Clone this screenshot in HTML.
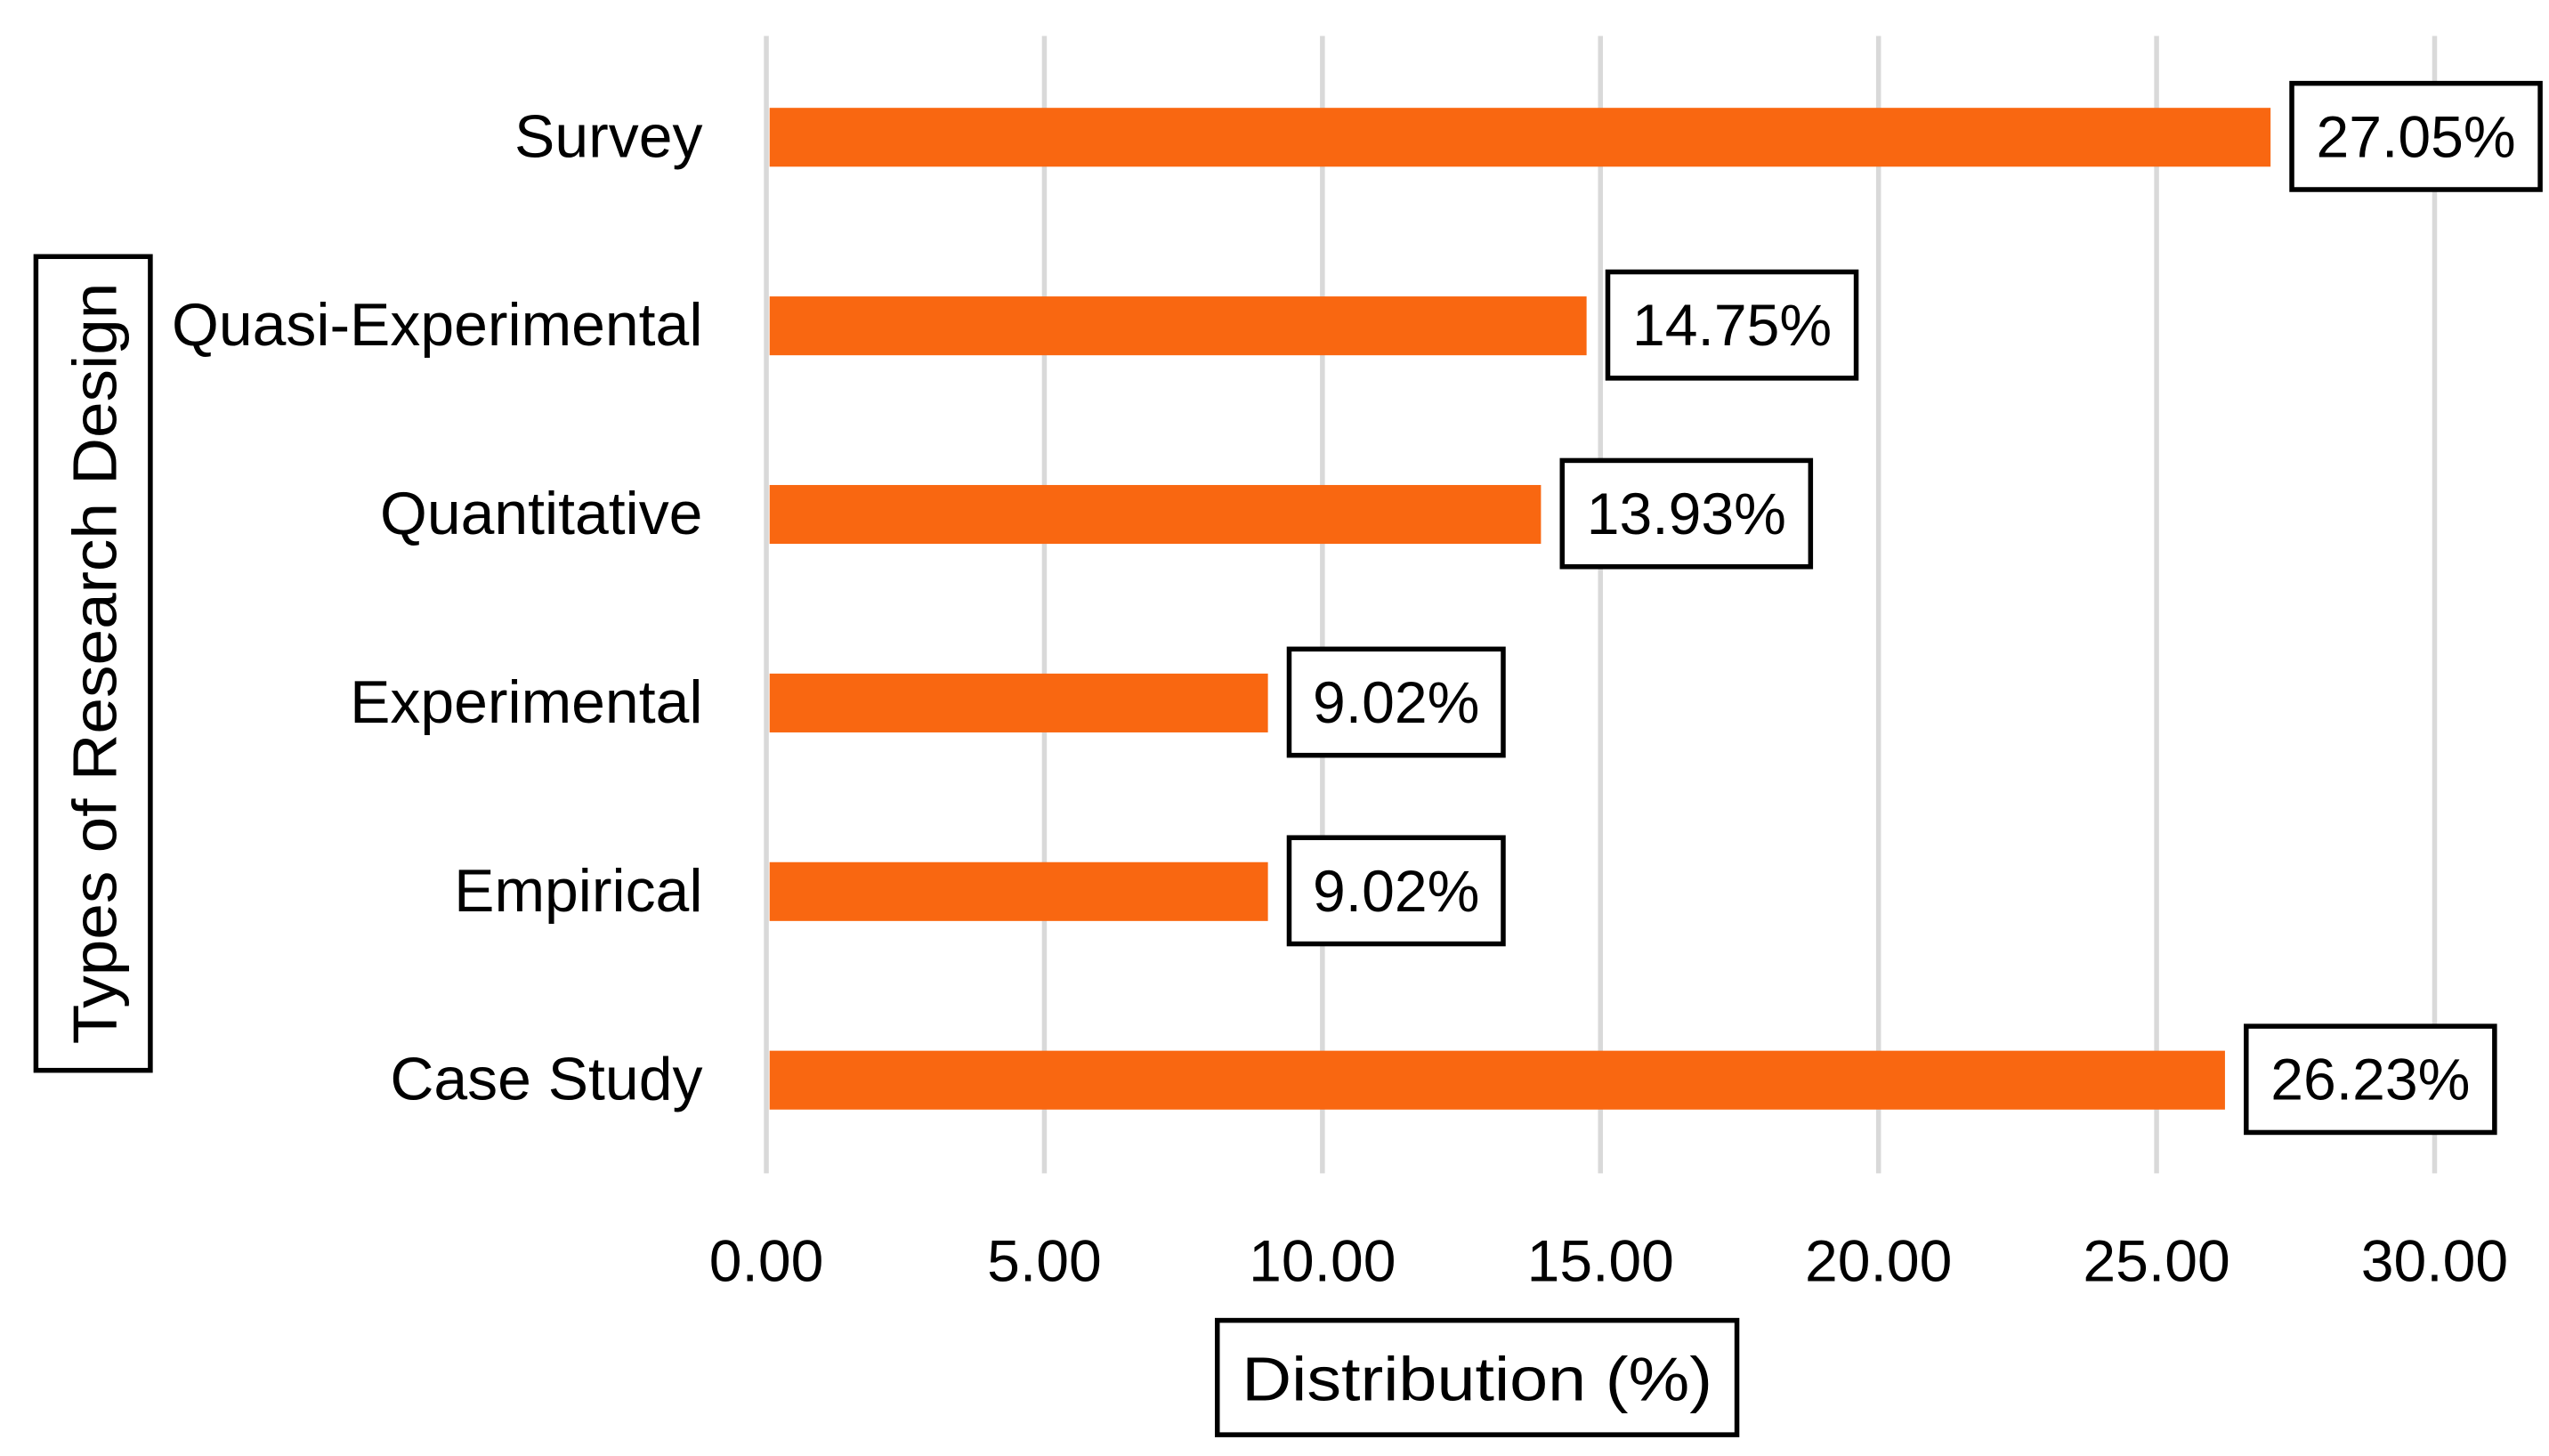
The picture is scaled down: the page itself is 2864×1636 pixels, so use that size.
<!DOCTYPE html>
<html><head><meta charset="utf-8"><style>
html,body{margin:0;padding:0;background:#fff;width:2864px;height:1636px;overflow:hidden}
svg{display:block}
text{font-family:"Liberation Sans",sans-serif;fill:#000}
</style></head><body>
<svg id="chart" width="2864" height="1636" viewBox="0 0 1560 891" preserveAspectRatio="none" xmlns="http://www.w3.org/2000/svg">
<g id="grid"></g>
<g id="bars"></g>
<g id="labels"></g>
<g id="cats"></g>
<g id="ticks"></g>
<g>
<rect x="745" y="808" width="318" height="70" fill="none" stroke="#000" stroke-width="3"/>
<text x="904" y="857" font-size="38" text-anchor="middle" textLength="288" lengthAdjust="spacingAndGlyphs">Distribution (%)</text>
</g>
<g>
<rect x="22" y="157" width="70" height="498" fill="none" stroke="#000" stroke-width="3"/>
<text transform="translate(71,406) rotate(-90)" font-size="38" text-anchor="middle" textLength="466" lengthAdjust="spacingAndGlyphs">Types of Research Design</text>
</g>
</svg>
<script>
const categories = ["Survey","Quasi-Experimental","Quantitative","Experimental","Empirical","Case Study"];
const values = [27.05,14.75,13.93,9.02,9.02,26.23];
const valueLabels = ["27.05%","14.75%","13.93%","9.02%","9.02%","26.23%"];
const tickValues = [0,5,10,15,20,25,30];
const tickLabels = ["0.00","5.00","10.00","15.00","20.00","25.00","30.00"];

const NS="http://www.w3.org/2000/svg";
const X0=469,X1=1490,VMAX=30;
const xs=v=>X0+(v/VMAX)*(X1-X0);
const ys=i=>84+i*115.4;
function mk(tag,attrs,parent){const e=document.createElementNS(NS,tag);for(const k in attrs)e.setAttribute(k,attrs[k]);parent.appendChild(e);return e;}
const grid=document.getElementById('grid'),bars=document.getElementById('bars'),labels=document.getElementById('labels'),cats=document.getElementById('cats'),ticks=document.getElementById('ticks');
tickValues.forEach((t,i)=>{
  const l=mk('line',{x1:xs(t),x2:xs(t),y1:22,y2:718,stroke:'#d9d9d9','stroke-width':3},grid);
  
  
  const tx=mk('text',{x:xs(t),y:784,'font-size':36,'text-anchor':'middle'},ticks);
  tx.textContent=tickLabels[i];
  
  
});
categories.forEach((c,i)=>{
  const y=ys(i);
  const r=mk('rect',{x:X0+2,y:y-18,width:xs(values[i])-X0-2,height:36,fill:'#F96711'},bars);
  
  
  const ct=mk('text',{x:430,y:y+12,'font-size':37,'text-anchor':'end'},cats);
  ct.textContent=c;
  
  
  const bx=xs(values[i])+13;
  const w=valueLabels[i].length>5?152:131;
  const g=mk('g',{},labels);
  
  
  mk('rect',{x:bx,y:y-33,width:w,height:65,fill:'#fff',stroke:'#000','stroke-width':3},g);
  const vt=mk('text',{x:bx+w/2,y:y+12,'font-size':36,'text-anchor':'middle'},g);
  vt.textContent=valueLabels[i];
});
</script>
</body></html>
